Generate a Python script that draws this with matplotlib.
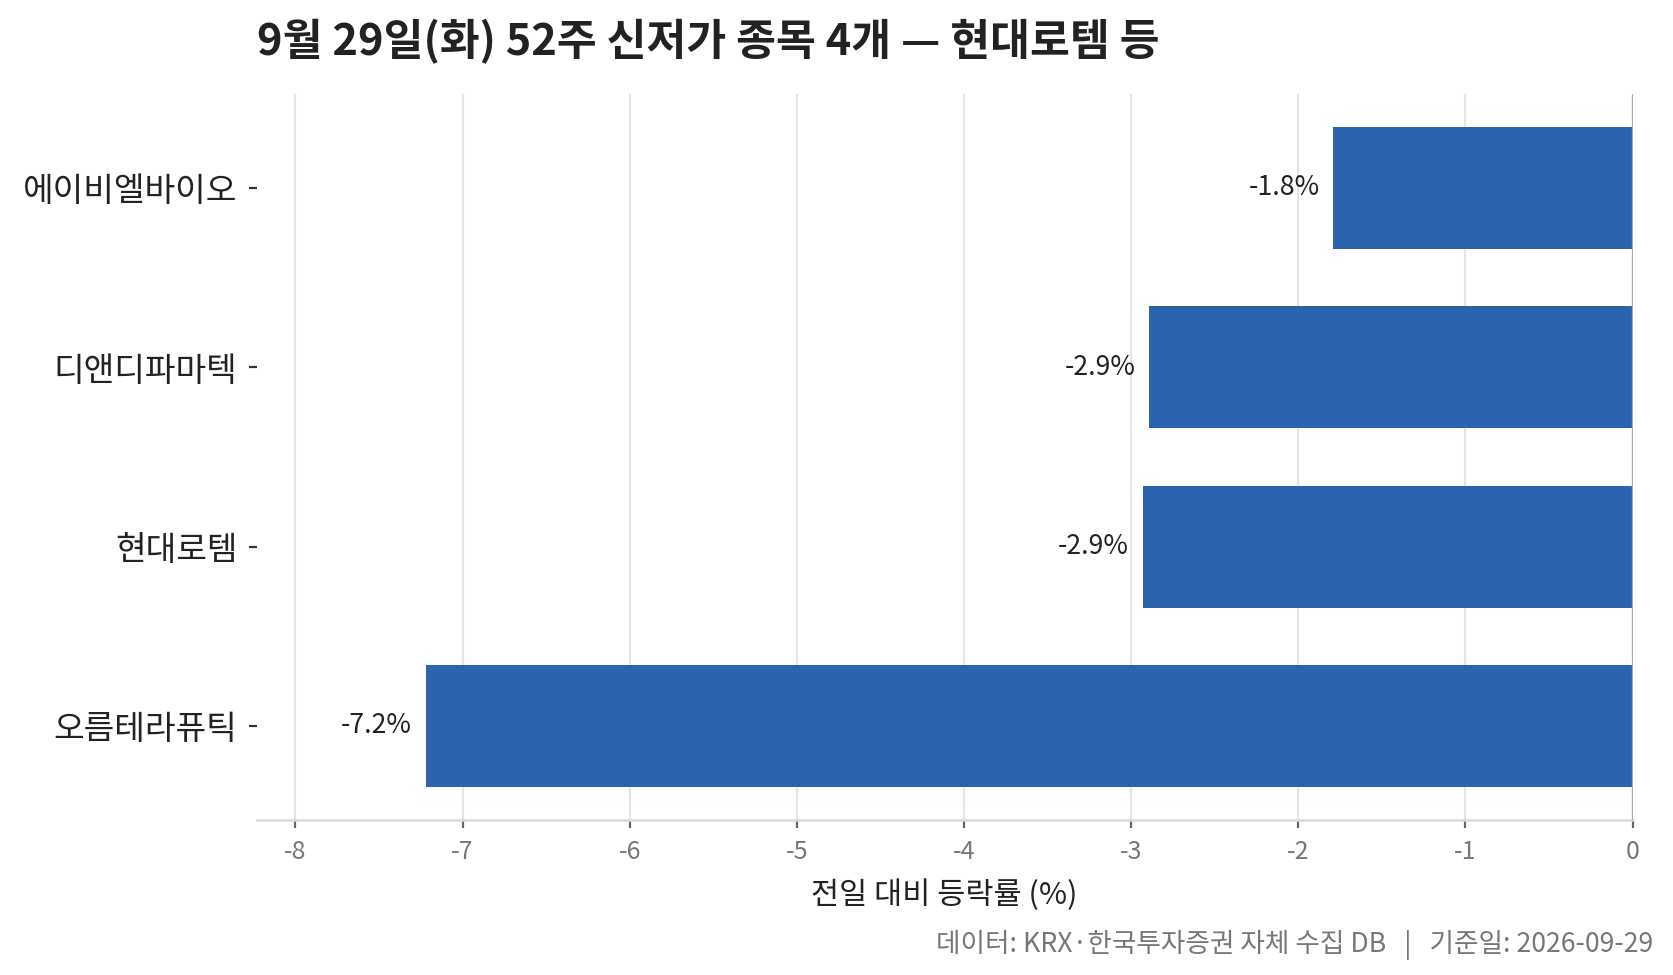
import matplotlib
matplotlib.use("Agg")
import matplotlib.pyplot as plt

plt.rcParams['font.family'] = ['Noto Sans CJK KR', 'DejaVu Sans']

categories = ['오름테라퓨틱', '현대로템', '디앤디파마텍', '에이비엘바이오']
values = [-7.22, -2.93, -2.89, -1.79]
labels = ['-7.2%', '-2.9%', '-2.9%', '-1.8%']
xticks = [-8, -7, -6, -5, -4, -3, -2, -1, 0]

title = '9월 29일(화) 52주 신저가 종목 4개 — 현대로템 등'
xlabel = '전일 대비 등락률 (%)'
source = '데이터: KRX·한국투자증권 자체 수집 DB   |   기준일: 2026-09-29'

fig = plt.figure(figsize=(8.365, 4.875), dpi=200)
ax = fig.add_axes([0.1536, 0.159, 0.9758 - 0.1536, 0.9036 - 0.159])

ypos = list(range(len(categories)))
bars = ax.barh(ypos, values, height=0.68, color='#2B63AF', zorder=3)
for b, lab in zip(bars, labels):
    ax.annotate(lab, xy=(b.get_width(), b.get_y() + b.get_height() / 2),
                xytext=(-5, 0), textcoords='offset points',
                ha='right', va='center', fontsize=9.6, color='#222222')

ax.set_yticks(ypos)
ax.set_yticklabels(categories, fontsize=12, color='#222222')
ax.set_xticks(xticks)
ax.set_xticklabels([str(t) for t in xticks], fontsize=9, color='#777777')
ax.set_xlim(-8.23, 0)

ax.grid(axis='x', color='#e5e5e5', linewidth=0.8, zorder=0)
ax.set_axisbelow(True)
ax.axvline(0, color='#aaaaaa', linewidth=0.8, zorder=4)

for s in ['top', 'right', 'left']:
    ax.spines[s].set_visible(False)
ax.spines['bottom'].set_color('#d9d9d9')
ax.spines['bottom'].set_linewidth(0.9)

ax.tick_params(axis='x', length=3, width=0.8, color='#666666', pad=4)
ax.tick_params(axis='y', length=3, width=0.8, color='#333333', pad=4)

ax.set_xlabel(xlabel, fontsize=11, color='#222222', labelpad=5)
ax.set_title(title, loc='left', fontsize=15.6, fontweight='bold', color='#222222', pad=14)

fig.text(0.988, 0.031, source, ha='right', va='center', fontsize=9.6, color='#777777')

fig.savefig('out.png', dpi=200)
